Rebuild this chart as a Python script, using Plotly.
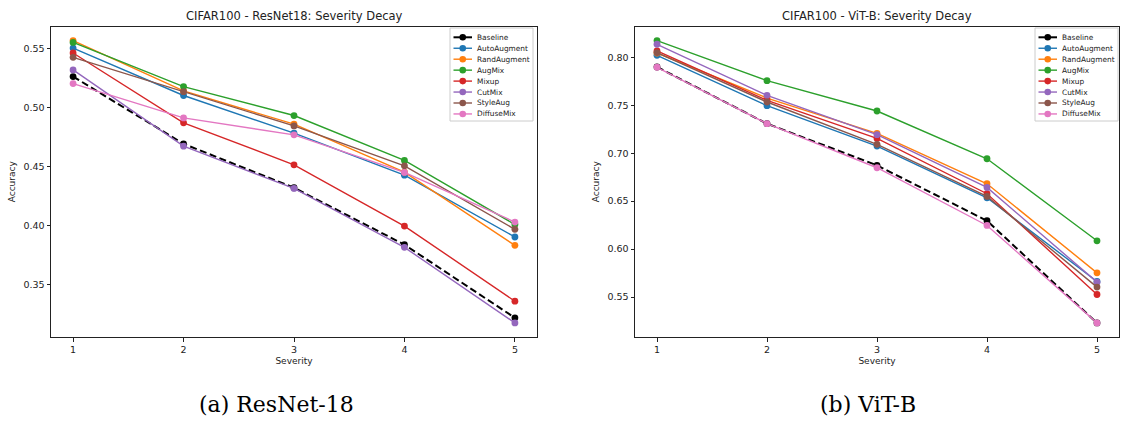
import plotly.graph_objects as go

W, H = 1128, 421

severity = [1, 2, 3, 4, 5]
methods = ["Baseline", "AutoAugment", "RandAugment", "AugMix", "Mixup", "CutMix", "StyleAug", "DiffuseMix"]
colors = ["#000000", "#1f77b4", "#ff7f0e", "#2ca02c", "#d62728", "#9467bd", "#8c564b", "#e377c2"]

resnet_baseline = [0.5266, 0.4695, 0.4322, 0.3839, 0.3218]
resnet_autoaugment = [0.5508, 0.5105, 0.4785, 0.4429, 0.3904]
resnet_randaugment = [0.5571, 0.5144, 0.4862, 0.4455, 0.3833]
resnet_augmix = [0.5556, 0.5181, 0.4935, 0.4554, 0.4010]
resnet_mixup = [0.5466, 0.4873, 0.4517, 0.3997, 0.3359]
resnet_cutmix = [0.5322, 0.4675, 0.4316, 0.3816, 0.3175]
resnet_styleaug = [0.5429, 0.5138, 0.4847, 0.4508, 0.3969]
resnet_diffusemix = [0.5206, 0.4915, 0.4771, 0.4452, 0.4031]

vit_baseline = [0.7899, 0.7308, 0.6873, 0.6295, 0.5230]
vit_autoaugment = [0.8021, 0.7495, 0.7074, 0.6535, 0.5662]
vit_randaugment = [0.8045, 0.7575, 0.7207, 0.6681, 0.5752]
vit_augmix = [0.8174, 0.7756, 0.7440, 0.6942, 0.6086]
vit_mixup = [0.8066, 0.7551, 0.7154, 0.6577, 0.5526]
vit_cutmix = [0.8136, 0.7603, 0.7193, 0.6643, 0.5655]
vit_styleaug = [0.8049, 0.7534, 0.7092, 0.6549, 0.5603]
vit_diffusemix = [0.7896, 0.7308, 0.6848, 0.6246, 0.5230]

resnet = [resnet_baseline, resnet_autoaugment, resnet_randaugment, resnet_augmix,
          resnet_mixup, resnet_cutmix, resnet_styleaug, resnet_diffusemix]
vit = [vit_baseline, vit_autoaugment, vit_randaugment, vit_augmix,
       vit_mixup, vit_cutmix, vit_styleaug, vit_diffusemix]

titles = ["CIFAR100 - ResNet18: Severity Decay", "CIFAR100 - ViT-B: Severity Decay"]
captions = ["(a) ResNet-18", "(b) ViT-B"]
yticks_left = [0.35, 0.40, 0.45, 0.50, 0.55]
yticks_right = [0.55, 0.60, 0.65, 0.70, 0.75, 0.80]

fig = go.Figure()


def pad_range(vals, frac=0.05):
    lo, hi = min(vals), max(vals)
    d = (hi - lo) * frac
    return [lo - d, hi + d]


panels = [
    dict(data=resnet, xa="x", ya="y", xdom=[51 / W, 537 / W], legend_left=450, caption_x=276),
    dict(data=vit, xa="x2", ya="y2", xdom=[635 / W, 1119 / W], legend_left=1035, caption_x=868),
]
ydom = [1 - 337 / H, 1 - 26.5 / H]

for p in panels:
    for name, col, vals in zip(methods, colors, p["data"]):
        is_base = name == "Baseline"
        fig.add_trace(go.Scatter(
            x=severity, y=vals, name=name, mode="lines+markers",
            line=dict(color=col, width=2 if is_base else 1.4,
                      dash="7px,3.5px" if is_base else "solid"),
            marker=dict(color=col, size=6.8),
            xaxis=p["xa"], yaxis=p["ya"], showlegend=False,
        ))

axis_common = dict(showline=True, mirror=True, linecolor="#222222", linewidth=1,
                   ticks="outside", ticklen=3.5, tickwidth=1, tickcolor="#222222",
                   showgrid=False, zeroline=False,
                   tickfont=dict(family="DejaVu Sans", size=9.5, color="#222222"))

all_left = [v for s in resnet for v in s]
all_right = [v for s in vit for v in s]

title_font = dict(size=9, family="DejaVu Sans", color="#222222")
fig.update_layout(
    width=W, height=H, margin=dict(l=0, r=0, t=0, b=0),
    paper_bgcolor="white", plot_bgcolor="white",
    font=dict(family="DejaVu Sans", color="#222222"),
    showlegend=False,
    xaxis=dict(domain=panels[0]["xdom"], anchor="y", range=[0.8, 5.2], tickvals=severity,
               title=dict(text="Severity", font=title_font, standoff=3), **axis_common),
    yaxis=dict(domain=ydom, anchor="x", range=pad_range(all_left), tickvals=yticks_left,
               tickformat=".2f", title=dict(text="Accuracy", font=title_font, standoff=6), **axis_common),
    xaxis2=dict(domain=panels[1]["xdom"], anchor="y2", range=[0.8, 5.2], tickvals=severity,
                title=dict(text="Severity", font=title_font, standoff=3), **axis_common),
    yaxis2=dict(domain=ydom, anchor="x2", range=pad_range(all_right), tickvals=yticks_right,
                tickformat=".2f", title=dict(text="Accuracy", font=title_font, standoff=6), **axis_common),
)

# Titles and captions
for i, p in enumerate(panels):
    cx = (p["xdom"][0] + p["xdom"][1]) / 2
    fig.add_annotation(text=titles[i], x=cx, y=1 - 16 / H, xref="paper", yref="paper",
                       xanchor="center", yanchor="middle", showarrow=False,
                       font=dict(size=11.5, family="DejaVu Sans", color="#222222"))
    fig.add_annotation(text=captions[i], x=p["caption_x"] / W, y=1 - 404 / H, xref="paper", yref="paper",
                       xanchor="center", yanchor="middle", showarrow=False,
                       font=dict(size=22, family="DejaVu Serif", color="black"))

# Matplotlib-style legend box (drawn as decoration in paper pixels)
box_top, box_w, box_h = 28, 83, 93
row0, row_gap = 9.3, 10.95
shapes = []
for p in panels:
    L = p["legend_left"]
    shapes.append(dict(type="rect", xref="paper", yref="paper",
                       x0=L / W, x1=(L + box_w) / W, y0=1 - (box_top + box_h) / H, y1=1 - box_top / H,
                       line=dict(color="#cccccc", width=1), fillcolor="rgba(255,255,255,0.85)", layer="above"))
    for k, (name, col) in enumerate(zip(methods, colors)):
        yc = 1 - (box_top + row0 + k * row_gap) / H
        is_base = name == "Baseline"
        shapes.append(dict(type="line", xref="paper", yref="paper",
                           x0=(L + 3.5) / W, x1=(L + 22) / W, y0=yc, y1=yc,
                           line=dict(color=col, width=2 if is_base else 1.4), layer="above"))
        shapes.append(dict(type="circle", xref="paper", yref="paper",
                           xsizemode="pixel", ysizemode="pixel",
                           xanchor=(L + 12.75) / W, yanchor=yc,
                           x0=-3.3, x1=3.3, y0=-3.3, y1=3.3,
                           line=dict(color=col, width=0), fillcolor=col, layer="above"))
        fig.add_annotation(text=name, x=(L + 24.5) / W, y=yc, xref="paper", yref="paper",
                           xanchor="left", yanchor="middle", showarrow=False,
                           font=dict(size=7.4, family="DejaVu Sans", color="#222222"))
fig.update_layout(shapes=shapes)

fig.write_html("out.html")
